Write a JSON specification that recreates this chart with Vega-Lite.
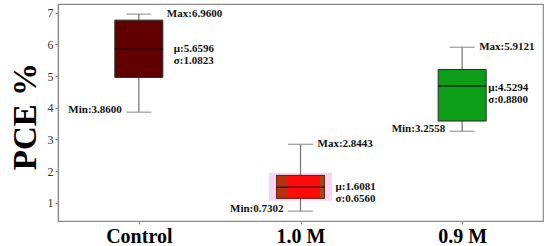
{
  "$schema": "https://vega.github.io/schema/vega-lite/v6.json",
  "autosize": "none",
  "width": 485,
  "height": 217,
  "padding": {"left": 58, "top": 4, "right": 7, "bottom": 25},
  "background": "white",
  "config": {
    "view": {"stroke": "#8a8a8a", "strokeWidth": 1.2},
    "font": "Liberation Serif",
    "axisY": {
      "tickCount": 7, "grid": false, "labelFont": "Liberation Serif", "labelFontSize": 12,
      "labelColor": "#333", "labelPadding": 2, "tickSize": 3, "tickColor": "#8a8a8a",
      "domainColor": "#8a8a8a", "domainWidth": 1.2, "labelOverlap": false
    }
  },
  "data": {
    "values": [
      {"g": "Control", "min": 3.86, "q1": 4.96, "median": 5.85, "q3": 6.77, "max": 6.96, "mean": 5.6596, "sd": 1.0823},
      {"g": "1.0 M", "min": 0.7302, "q1": 1.14, "median": 1.49, "q3": 1.86, "max": 2.8443, "mean": 1.6081, "sd": 0.656},
      {"g": "0.9 M", "min": 3.2558, "q1": 3.58, "median": 4.69, "q3": 5.21, "max": 5.9121, "mean": 4.5294, "sd": 0.88}
    ]
  },
  "transform": [
    {"calculate": "'Max:' + format(datum.max, '.4f')", "as": "maxLabel"},
    {"calculate": "'Min:' + format(datum.min, '.4f')", "as": "minLabel"},
    {"calculate": "'μ:' + format(datum.mean, '.4f') + '\\nσ:' + format(datum.sd, '.4f')", "as": "statLabel"}
  ],
  "encoding": {
    "x": {
      "field": "g", "type": "nominal", "sort": ["Control", "1.0 M", "0.9 M"],
      "scale": {"type": "point", "padding": 0.5},
      "axis": {
        "title": null, "labelAngle": 0, "labelFont": "Liberation Serif", "labelFontWeight": "bold",
        "labelFontSize": 20, "labelColor": "#000", "labelPadding": 2, "tickSize": 3, "tickColor": "#8a8a8a",
        "domainColor": "#8a8a8a", "domainWidth": 1.2
      }
    }
  },
  "layer": [
    {
      "transform": [{"filter": "datum.g == '1.0 M'"}],
      "mark": {"type": "bar", "width": 58, "fill": "#fbd3f5", "stroke": "#fbd3f5", "strokeWidth": 5},
      "encoding": {
        "y": {
          "field": "q1", "type": "quantitative",
          "scale": {"domain": [0.42, 7.28], "nice": false, "zero": false},
          "axis": {
            "title": "PCE %", "titleFont": "Liberation Serif", "titleFontSize": 33, "titleFontWeight": "bold",
            "titleColor": "#000", "titleX": -33, "titleY": 112, "titleAngle": -90, "titleBaseline": "middle", "titleAlign": "center",
            "values": [1, 2, 3, 4, 5, 6, 7]
          }
        },
        "y2": {"field": "q3"}
      }
    },
    {
      "mark": {"type": "rule", "color": "#7a7a7a", "strokeWidth": 1.3},
      "encoding": {"y": {"field": "min", "type": "quantitative"}, "y2": {"field": "max"}}
    },
    {
      "mark": {"type": "tick", "color": "#7a7a7a", "size": 25, "thickness": 1.3},
      "encoding": {"y": {"field": "min", "type": "quantitative"}}
    },
    {
      "mark": {"type": "tick", "color": "#7a7a7a", "size": 25, "thickness": 1.3},
      "encoding": {"y": {"field": "max", "type": "quantitative"}}
    },
    {
      "mark": {"type": "bar", "width": 48, "stroke": "#2a2a2a", "strokeWidth": 1},
      "encoding": {
        "y": {"field": "q1", "type": "quantitative"},
        "y2": {"field": "q3"},
        "fill": {
          "field": "g", "type": "nominal", "legend": null,
          "scale": {"domain": ["Control", "1.0 M", "0.9 M"], "range": ["#600000", "#ff0a0a", "#0c9e18"]}
        }
      }
    },
    {
      "transform": [{"filter": "datum.g == '1.0 M'"}],
      "mark": {
        "type": "bar", "width": 48, "stroke": "#6a2a10", "strokeWidth": 1,
        "fill": {
          "gradient": "linear", "x1": 0, "x2": 1, "y1": 0, "y2": 0,
          "stops": [
            {"offset": 0, "color": "#b8300e"},
            {"offset": 0.24, "color": "#b8300e"},
            {"offset": 0.25, "color": "#ff0a0a"},
            {"offset": 0.9, "color": "#ff0a0a"},
            {"offset": 0.91, "color": "#a34812"},
            {"offset": 1, "color": "#a34812"}
          ]
        }
      },
      "encoding": {"y": {"field": "q1", "type": "quantitative"}, "y2": {"field": "q3"}}
    },
    {
      "mark": {"type": "tick", "color": "#000", "size": 48, "thickness": 1.5},
      "encoding": {"y": {"field": "median", "type": "quantitative"}}
    },
    {
      "transform": [{"filter": "datum.g == 'Control'"}],
      "mark": {"type": "text", "align": "left", "baseline": "middle", "dx": 28, "font": "Liberation Serif", "fontWeight": "bold", "fontSize": 11, "color": "#111"},
      "encoding": {"y": {"field": "max", "type": "quantitative"}, "text": {"field": "maxLabel"}}
    },
    {
      "transform": [{"filter": "datum.g != 'Control'"}],
      "mark": {"type": "text", "align": "left", "baseline": "middle", "dx": 17, "font": "Liberation Serif", "fontWeight": "bold", "fontSize": 11, "color": "#111"},
      "encoding": {"y": {"field": "max", "type": "quantitative"}, "text": {"field": "maxLabel"}}
    },
    {
      "mark": {"type": "text", "align": "right", "baseline": "middle", "dx": -17, "dy": -2, "font": "Liberation Serif", "fontWeight": "bold", "fontSize": 11, "color": "#111"},
      "encoding": {"y": {"field": "min", "type": "quantitative"}, "text": {"field": "minLabel"}}
    },
    {
      "transform": [{"filter": "datum.g != '0.9 M'"}],
      "mark": {"type": "text", "align": "left", "baseline": "middle", "dx": 35, "lineBreak": "\n", "lineHeight": 12, "font": "Liberation Serif", "fontWeight": "bold", "fontSize": 11, "color": "#111"},
      "encoding": {"y": {"field": "median", "type": "quantitative"}, "text": {"field": "statLabel"}}
    },
    {
      "transform": [{"filter": "datum.g == '0.9 M'"}],
      "mark": {"type": "text", "align": "left", "baseline": "middle", "dx": 26, "dy": 2, "lineBreak": "\n", "lineHeight": 12, "font": "Liberation Serif", "fontWeight": "bold", "fontSize": 11, "color": "#111"},
      "encoding": {"y": {"field": "median", "type": "quantitative"}, "text": {"field": "statLabel"}}
    }
  ]
}
